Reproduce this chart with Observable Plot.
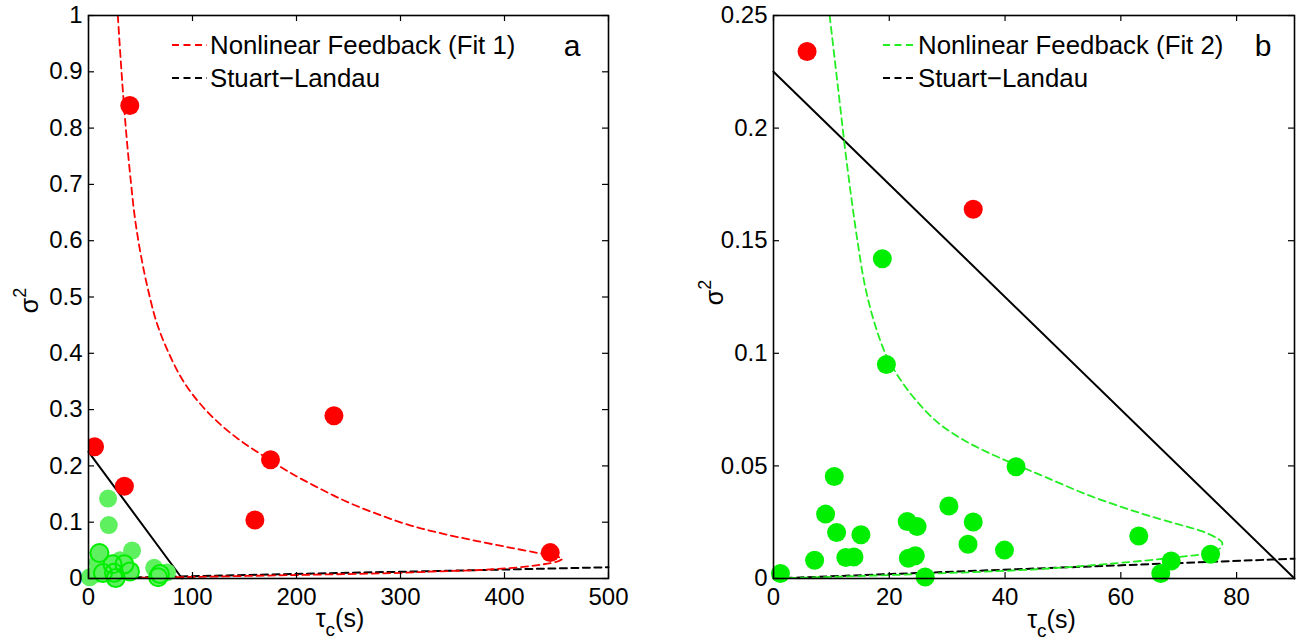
<!DOCTYPE html>
<html>
<head>
<meta charset="utf-8">
<script src="https://cdn.jsdelivr.net/npm/d3@7"></script>
<script src="https://cdn.jsdelivr.net/npm/@observablehq/plot@0.6"></script>
<style>
  body { margin: 0; background: #fff; }
  #wrap { display: flex; width: 1300px; height: 640px; }
  #wrap svg { display: block; }
</style>
</head>
<body>
<div id="wrap"></div>
<script>
// Unstable records (red): correlation time τc (s) and variance σ²
const redTau = [5.8, 39.7, 34.5, 160, 175, 236, 444];
const redVar = [0.234, 0.84, 0.164, 0.104, 0.211, 0.289, 0.046];

// Stable records (green)
const greenTau = [1.2, 7.1, 9.0, 10.5, 10.9, 12.5, 13.9, 15.1, 18.8, 19.5, 23.1, 24.8, 23.3, 24.5, 26.2, 30.3, 34.5, 33.6, 39.9, 41.9, 63.1, 66.9, 68.7, 75.5];
const greenVar = [0.0022, 0.0081, 0.0286, 0.0453, 0.0204, 0.0093, 0.0096, 0.0194, 0.142, 0.095, 0.0253, 0.0231, 0.0090, 0.0101, 0.0007, 0.0322, 0.0251, 0.0152, 0.0126, 0.0496, 0.0189, 0.0022, 0.0078, 0.0108];
// stable records drawn with an outline in the full-range panel
const ringedIdx = [3, 6, 10, 13, 14, 16, 18, 21, 22];

// Stability boundary (solid)
const boundaryTau = [0, 90];
const boundaryVar = [0.225, 0];

// Stuart–Landau prediction (dashed), one per panel
const slTauA = [0, 500];
const slVarA = [0, 0.02];
const slTauB = [0, 90];
const slVarB = [0, 0.0088];

// Nonlinear feedback fits: upper branch down to the fold, then lower branch back to the origin
const fit1Tau = [28.2, 31, 34, 37.2, 41, 44.5, 50, 57, 66, 78, 92, 108, 126, 146, 168, 192, 220, 250, 280, 310, 342, 375, 405, 433, 450, 455.5, 452, 440, 420, 380, 332, 300, 200, 100, 0];
const fit1Var = [1.0, 0.92, 0.843, 0.772, 0.70, 0.642, 0.578, 0.515, 0.452, 0.397, 0.348, 0.309, 0.275, 0.245, 0.218, 0.19, 0.162, 0.135, 0.113, 0.094, 0.079, 0.066, 0.055, 0.045, 0.039, 0.035, 0.031, 0.026, 0.021, 0.0154, 0.0124, 0.010, 0.0062, 0.0028, 0];
const fit2Tau = [9.7, 10.6, 11.5, 12.4, 13.4, 14.5, 15.8, 17.5, 19.5, 22, 25, 28.5, 32.5, 37, 41.9, 47, 54.4, 63.4, 70, 74, 76.5, 77.5, 77.3, 75.3, 69.3, 57.4, 45.5, 27.7, 9.8, 0];
const fit2Var = [0.25, 0.23, 0.21, 0.19, 0.17, 0.15, 0.13, 0.113, 0.099, 0.088, 0.078, 0.069, 0.062, 0.056, 0.0505, 0.045, 0.037, 0.029, 0.024, 0.021, 0.018, 0.016, 0.0138, 0.0115, 0.0093, 0.0064, 0.0041, 0.0022, 0.0007, 0];

// Ticks and their labels
const xTicksA = [0, 100, 200, 300, 400, 500];
const xLabelsA = ["0", "100", "200", "300", "400", "500"];
const yTicksA = [0, 0.1, 0.2, 0.3, 0.4, 0.5, 0.6, 0.7, 0.8, 0.9, 1];
const yLabelsA = ["0", "0.1", "0.2", "0.3", "0.4", "0.5", "0.6", "0.7", "0.8", "0.9", "1"];
const xTicksB = [0, 20, 40, 60, 80];
const xLabelsB = ["0", "20", "40", "60", "80"];
const yTicksB = [0, 0.05, 0.1, 0.15, 0.2, 0.25];
const yLabelsB = ["0", "0.05", "0.1", "0.15", "0.2", "0.25"];

const legendA = ["Nonlinear Feedback (Fit 1)", "Stuart\u2212Landau"];
const legendB = ["Nonlinear Feedback (Fit 2)", "Stuart\u2212Landau"];

const FONT = "'Liberation Sans', Arial, Helvetica, sans-serif";
const RED = "#ff0000";
const GREEN = "#00ee00";
const LIGHT_GREEN = "#5ff05f";
const FIT2_GREEN = "#22ee22";
const W = 650, H = 640, TICK = 6;

const rows = (xs, ys) => xs.map((x, i) => ({x, y: ys[i]}));
const red = rows(redTau, redVar);
const green = rows(greenTau, greenVar);
const ringed = ringedIdx.map(i => green[i]);

function panel({xDomain, yDomain, xTicks, xLabels, yTicks, yLabels, margins, slTau, slVar, fitTau, fitVar, fitColor, lightGreen, legend, letter, letterDx, legendX, sampleW, xLabelShift, xLabelY, yLabelShift}) {
  const [ml, mr, mt, mb] = margins;
  const innerW = W - ml - mr, innerH = H - mt - mb;
  const fx = d => xLabels[xTicks.indexOf(d)];
  const fy = d => yLabels[yTicks.indexOf(d)];
  const marks = [
    Plot.line(rows(boundaryTau, boundaryVar), {x: "x", y: "y", stroke: "black", strokeWidth: 2}),
    Plot.line(rows(slTau, slVar), {x: "x", y: "y", stroke: "black", strokeWidth: 2, strokeDasharray: "7,4.5"}),
    Plot.line(rows(fitTau, fitVar), {x: "x", y: "y", curve: "catmull-rom", stroke: fitColor, strokeWidth: 1.8, strokeDasharray: "7,4.5", clip: true}),
  ];
  if (lightGreen) {
    marks.push(Plot.dot(green, {x: "x", y: "y", r: 9, fill: LIGHT_GREEN, stroke: "none"}));
    marks.push(Plot.dot(ringed, {x: "x", y: "y", r: 9, fill: "none", stroke: GREEN, strokeWidth: 2}));
  } else {
    marks.push(Plot.dot(green, {x: "x", y: "y", r: 9.5, fill: GREEN, stroke: "none"}));
  }
  marks.push(Plot.dot(red, {x: "x", y: "y", r: 9.5, fill: RED, stroke: "none", clip: true}));
  marks.push(
    Plot.tickX(xTicks, {x: d => d, insetTop: innerH - TICK, stroke: "black", strokeWidth: 1.2}),
    Plot.tickX(xTicks, {x: d => d, insetBottom: innerH - TICK, stroke: "black", strokeWidth: 1.2}),
    Plot.tickY(yTicks, {y: d => d, insetRight: innerW - TICK, stroke: "black", strokeWidth: 1.2}),
    Plot.tickY(yTicks, {y: d => d, insetLeft: innerW - TICK, stroke: "black", strokeWidth: 1.2}),
    Plot.frame({stroke: "black", strokeWidth: 1.6}),
    Plot.axisX(xTicks, {tickSize: 0, tickPadding: 9, tickFormat: fx, fontSize: 24, label: null}),
    Plot.axisY(yTicks, {tickSize: 0, tickPadding: 6, tickFormat: fy, fontSize: 24, label: null})
  );
  const svg = Plot.plot({
    width: W, height: H,
    marginLeft: ml, marginRight: mr, marginTop: mt, marginBottom: mb,
    x: {domain: xDomain},
    y: {domain: yDomain},
    style: {fontFamily: FONT, fontSize: "24px", color: "black", background: "white", overflow: "visible"},
    marks
  });

  const g = d3.select(svg).append("g").attr("font-family", FONT).attr("fill", "black");
  // legend
  const ly = [mt + 30, mt + 63];
  [[fitColor, legend[0]], ["black", legend[1]]].forEach(([c, t], i) => {
    g.append("line").attr("x1", legendX).attr("x2", legendX + sampleW)
      .attr("y1", ly[i]).attr("y2", ly[i]).attr("stroke", c).attr("stroke-width", 1.8)
      .attr("stroke-dasharray", "7,4.5");
    g.append("text").attr("x", legendX + sampleW + 3).attr("y", ly[i]).attr("dy", "0.36em")
      .attr("text-anchor", "start").attr("font-size", 25.8).text(t);
  });
  // panel letter
  g.append("text").attr("x", W - mr + letterDx).attr("y", ly[0]).attr("dy", "0.36em")
    .attr("text-anchor", "middle").attr("font-size", 30).text(letter);
  // x label τc(s)
  const xl = g.append("text").attr("x", ml + innerW / 2 + xLabelShift).attr("y", xLabelY)
    .attr("text-anchor", "middle").attr("font-size", 25);
  xl.append("tspan").text("\u03c4");
  xl.append("tspan").attr("dy", 9).attr("font-size", 19).text("c");
  xl.append("tspan").attr("dy", -9).text("(s)");
  // y label σ²
  const yl = g.append("text").attr("transform", `translate(${ml - 50},${mt + innerH / 2 + yLabelShift}) rotate(-90)`)
    .attr("text-anchor", "middle").attr("font-size", 25);
  yl.append("tspan").text("\u03c3");
  yl.append("tspan").attr("dy", -12).attr("font-size", 18).text("2");
  return svg;
}

const wrap = document.getElementById("wrap");
wrap.append(panel({
  xDomain: [0, 500], yDomain: [0, 1],
  xTicks: xTicksA, xLabels: xLabelsA, yTicks: yTicksA, yLabels: yLabelsA,
  margins: [88, 42, 15, 62],
  slTau: slTauA, slVar: slVarA, fitTau: fit1Tau, fitVar: fit1Var, fitColor: RED,
  lightGreen: true, legend: legendA, letter: "a", letterDx: -36, legendX: 172, sampleW: 35,
  xLabelShift: -8, xLabelY: 627, yLabelShift: 4
}));
wrap.append(panel({
  xDomain: [0, 90], yDomain: [0, 0.25],
  xTicks: xTicksB, xLabels: xLabelsB, yTicks: yTicksB, yLabels: yLabelsB,
  margins: [123, 6, 15, 62],
  slTau: slTauB, slVar: slVarB, fitTau: fit2Tau, fitVar: fit2Var, fitColor: FIT2_GREEN,
  lightGreen: false, legend: legendB, letter: "b", letterDx: -31, legendX: 233, sampleW: 32,
  xLabelShift: 18, xLabelY: 628, yLabelShift: -4
}));
</script>
</body>
</html>
